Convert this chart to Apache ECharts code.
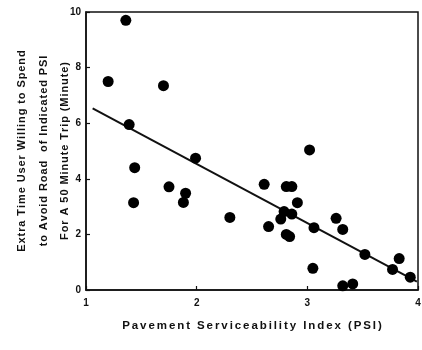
<!DOCTYPE html>
<html>
<head>
<meta charset="utf-8">
<script src="https://cdn.jsdelivr.net/npm/echarts@6/dist/echarts.min.js"></script>
<style>
  html, body { margin: 0; padding: 0; background: #fff; }
  #chart { width: 422px; height: 350px; }
</style>
</head>
<body>
<div id="chart"></div>
<script>
// Survey responses: PSI of the road vs. extra minutes a user would spend to avoid it
const psi = [1.20, 1.36, 1.39, 1.44, 1.43, 1.70, 1.75, 1.90, 1.88, 1.99, 2.30,
             2.61, 2.65, 2.76, 2.79, 2.81, 2.86, 2.86, 2.91, 2.81, 2.84, 3.02,
             3.06, 3.05, 3.26, 3.32, 3.32, 3.41, 3.52, 3.77, 3.83, 3.93];
const extraTime = [7.5, 9.7, 5.95, 4.4, 3.14, 7.35, 3.71, 3.48, 3.15, 4.74, 2.61,
                   3.8, 2.28, 2.55, 2.82, 3.72, 3.72, 2.73, 3.14, 2.0, 1.92, 5.04,
                   2.24, 0.78, 2.58, 2.18, 0.15, 0.22, 1.28, 0.74, 1.13, 0.46];

// Least-squares fit line end points
const fitX = [1.06, 3.99];
const fitY = [6.53, 0.30];

const yTicks = [0, 2, 4, 6, 8, 10];
const xTicks = [1, 2, 3, 4];

const yTitle = ['Extra Time User Willing to Spend',
                'to Avoid Road  of Indicated PSI',
                'For A 50 Minute Trip (Minute)'];
const xTitle = 'Pavement Serviceability Index (PSI)';

const font = 'Liberation Sans, Arial, sans-serif';

// Spread the letters of a title apart with hair spaces (canvas text has no letter-spacing here)
function spaced(s, n) {
  const gap = '\u200A'.repeat(n);
  return Array.from(s).join(gap);
}

const chart = echarts.init(document.getElementById('chart'), null, { renderer: 'canvas' });
chart.setOption({
  animation: false,
  backgroundColor: '#fff',
  grid: {
    left: 86, right: 4, top: 12, bottom: 60,
    containLabel: false, outerBoundsMode: 'none',
    show: true, borderColor: '#111', borderWidth: 1.5, backgroundColor: 'transparent'
  },
  xAxis: {
    type: 'value', min: xTicks[0], max: xTicks[xTicks.length - 1], interval: 1,
    axisLine: { lineStyle: { color: '#111', width: 1.5 } },
    axisTick: { inside: true, length: 4, lineStyle: { color: '#111', width: 1.2 } },
    splitLine: { show: false },
    axisLabel: { color: '#111', fontFamily: font, fontWeight: 'bold', fontSize: 10, margin: 8 },
    name: spaced(xTitle, 2), nameLocation: 'middle', nameGap: 30, nameMoveOverlap: false,
    nameTextStyle: { color: '#111', fontFamily: font, fontWeight: 'bold', fontSize: 11.5 }
  },
  yAxis: {
    type: 'value', min: yTicks[0], max: yTicks[yTicks.length - 1], interval: 2,
    axisLine: { show: true, lineStyle: { color: '#111', width: 1.5 } },
    axisTick: { show: true, inside: true, length: 4, lineStyle: { color: '#111', width: 1.2 } },
    splitLine: { show: false },
    axisLabel: { color: '#111', fontFamily: font, fontWeight: 'bold', fontSize: 10, margin: 5 },
    name: yTitle.map(t => spaced(t, 1)).join('\n'), nameLocation: 'middle', nameRotate: 90,
    nameGap: 10, nameMoveOverlap: false,
    nameTextStyle: { color: '#111', fontFamily: font, fontWeight: 'bold', fontSize: 11, lineHeight: 21.5, align: 'center' }
  },
  series: [
    {
      type: 'line',
      data: fitX.map((x, i) => [x, fitY[i]]),
      symbol: 'none',
      lineStyle: { color: '#111', width: 2 },
      z: 2
    },
    {
      type: 'scatter',
      data: psi.map((x, i) => [x, extraTime[i]]),
      symbol: 'circle',
      symbolSize: 11,
      itemStyle: { color: '#000', opacity: 1 },
      z: 3
    }
  ]
});
</script>
</body>
</html>
